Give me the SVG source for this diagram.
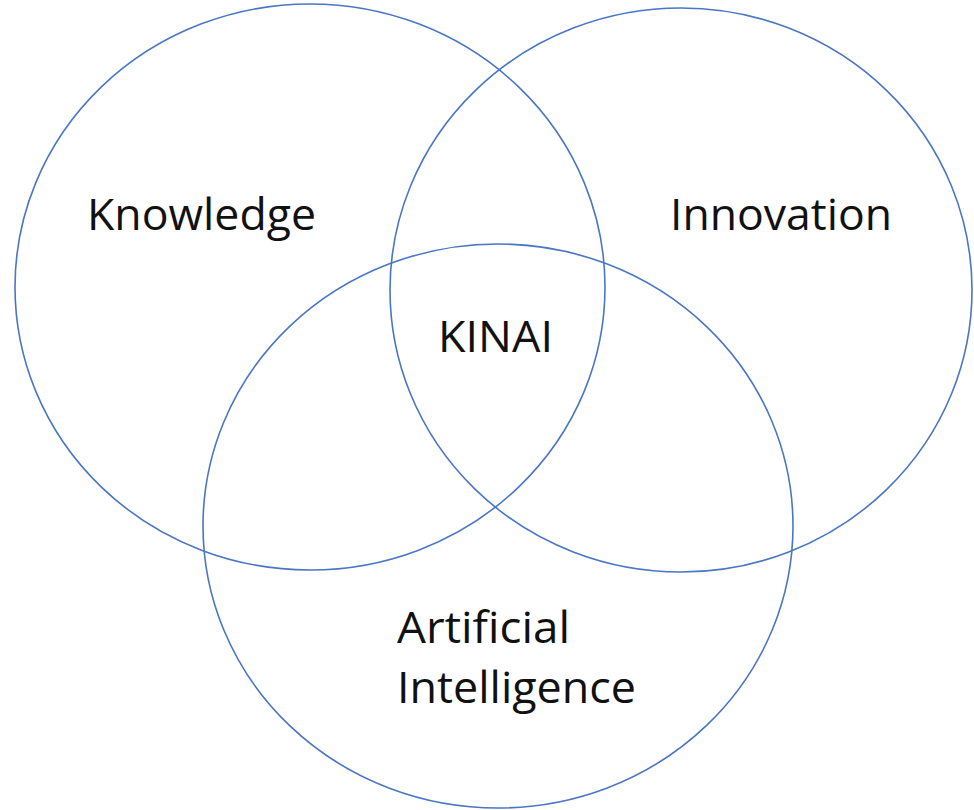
<svg xmlns="http://www.w3.org/2000/svg" width="974" height="810" viewBox="0 0 974 810">
<style>
.c{fill:none;stroke:#4a76c4;stroke-width:1.6}
.t{font-family:"Open Sans","Liberation Sans",sans-serif;font-size:44px;fill:#111}
</style>
<rect width="974" height="810" fill="#fff"/>
<g id="knowledge">
<ellipse class="c" cx="310" cy="287" rx="295" ry="283"/>
<text class="t" x="87" y="230" textLength="229" lengthAdjust="spacingAndGlyphs">Knowledge</text>
</g>
<g id="innovation">
<ellipse class="c" cx="681" cy="290" rx="291" ry="282"/>
<text class="t" x="670" y="230" textLength="222" lengthAdjust="spacingAndGlyphs">Innovation</text>
</g>
<g id="ai">
<ellipse class="c" cx="498" cy="526" rx="295" ry="282"/>
<text class="t" x="397" y="643" textLength="173" lengthAdjust="spacingAndGlyphs">Artificial</text>
<text class="t" x="397" y="703" textLength="239" lengthAdjust="spacingAndGlyphs">Intelligence</text>
</g>
<g id="kinai">
<text class="t" x="438" y="352" textLength="115" lengthAdjust="spacingAndGlyphs">KINAI</text>
</g>
<g id="connectors"/>
</svg>
